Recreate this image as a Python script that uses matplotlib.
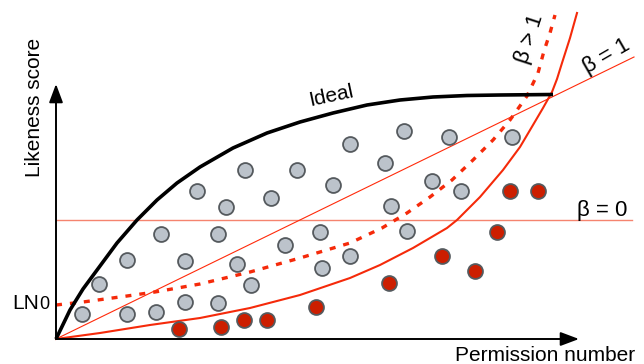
import matplotlib.pyplot as plt

plt.rcParams['font.family'] = ['Liberation Sans', 'DejaVu Sans']

# origin of the axes = (0, 0)
gray_x = [26, 43, 71, 71, 100, 105, 129, 129, 141, 162, 162, 170, 181, 189, 195, 215,
          229, 241, 264, 266, 277, 294, 294, 348, 393, 456, 329, 376, 405, 335, 351]
gray_y = [25, 55, 79, 25, 27, 105, 78, 37, 148, 105, 36, 132, 75, 169, 54, 141,
          94, 169, 107, 71, 154, 195, 83, 208, 202, 202, 176, 158, 148, 133, 108]

red_x = [123, 165, 188, 211, 260, 333, 386, 419, 441, 454, 482]
red_y = [10, 12, 19, 19, 32, 56, 83, 68, 107, 148, 148]

ideal_x = [0, 14, 27, 44, 61, 81, 101, 121, 144, 177, 211, 244, 277, 311, 344, 377, 411, 444, 497]
ideal_y = [0, 29, 50, 73, 96, 119, 139, 156, 172, 191, 206, 217, 226, 234, 239, 242, 243.5, 244, 244.5]

solid_x = [0, 44, 94, 144, 194, 244, 294, 324, 357, 391, 401, 424, 447, 464, 477, 487,
           496, 501, 506, 514, 521]
solid_y = [0, 6, 14, 21, 31, 44, 61, 74, 91, 111, 119, 142, 169, 192, 214, 231,
           247, 260, 276, 301, 326]

dotted_x = [0, 27, 71, 99, 144, 194, 244, 294, 326, 351, 374, 396, 417, 437, 454, 471,
            482, 488, 494, 499]
dotted_y = [34, 37, 43, 47, 55, 67, 81, 96, 111, 126, 142, 159, 179, 199, 219, 243,
            266, 288, 306, 324]

beta1_x = [0, 578]
beta1_y = [0, 282]
beta0_x = [0, 576]
beta0_y = [119, 119]

fig = plt.figure(figsize=(6.44, 3.64), dpi=100)
ax = fig.add_axes([0, 0, 1, 1])
ax.set_xlim(-56, 588)
ax.set_ylim(-25, 339)
ax.axis('off')

ax.plot(beta0_x, beta0_y, color='#f5846f', lw=1.0, zorder=1)
ax.plot(beta1_x, beta1_y, color='#ff2a0a', lw=0.8, zorder=1)
ax.plot(solid_x, solid_y, color='#f52a0a', lw=1.5, zorder=2, solid_joinstyle='round')
ax.plot(dotted_x, dotted_y, color='#f52a0a', lw=2.4, ls=(0, (1.8, 2.4)), zorder=2)
ax.plot(ideal_x, ideal_y, color='black', lw=2.6, zorder=3,
        solid_capstyle='butt', solid_joinstyle='round')

ax.scatter(gray_x, gray_y, s=115, c='#bcc3cb', edgecolors='#555a5e', linewidths=1.3, zorder=5)
ax.scatter(red_x, red_y, s=115, c='#cc1e00', edgecolors='#555a5e', linewidths=1.3, zorder=5)

arrow = dict(arrowstyle='-|>,head_length=0.8,head_width=0.3', color='black', lw=1.4,
             shrinkA=0, shrinkB=0, mutation_scale=14)
ax.annotate('', xy=(523, 0), xytext=(0, 0), arrowprops=arrow, zorder=6)
ax.annotate('', xy=(0, 255), xytext=(0, 0), arrowprops=arrow, zorder=6)

ax.text(-21, 232, 'Likeness score', rotation=90, ha='center', va='center', fontsize=15)
ax.text(399, -22, 'Permission number', ha='left', va='baseline', fontsize=15)
ax.text(275, 243, 'Ideal', rotation=12, ha='center', va='center', fontsize=15)
ax.text(-44, 30, 'LN', ha='left', va='baseline', fontsize=15)
ax.text(-17, 30, '0', ha='left', va='baseline', fontsize=13)
ax.text(521, 123, 'β = 0', ha='left', va='baseline', fontsize=16)
ax.text(551, 283, 'β = 1', rotation=30, ha='center', va='center', fontsize=16)
ax.text(474, 300, 'β > 1', rotation=72, ha='center', va='center', fontsize=16)

fig.savefig('out.png', dpi=100)
